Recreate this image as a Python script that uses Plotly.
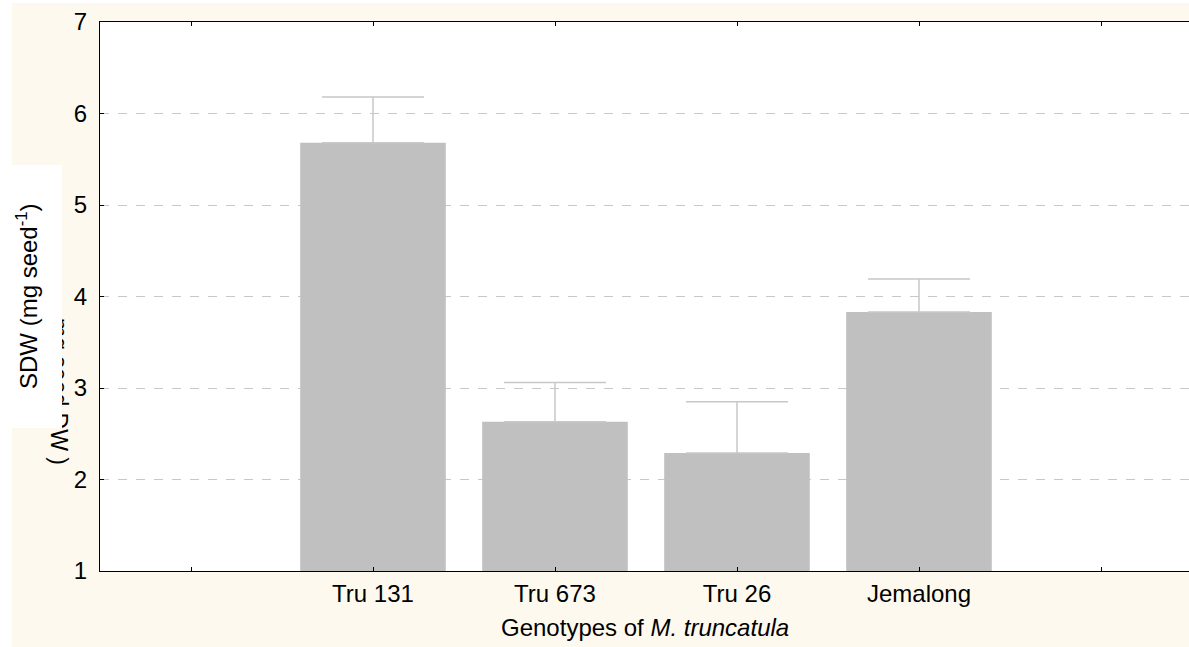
import plotly.graph_objects as go

categories = ["Tru 131", "Tru 673", "Tru 26", "Jemalong"]
sdw_mean = [5.68, 2.63, 2.29, 3.83]
sdw_err = [0.50, 0.43, 0.56, 0.36]
cat_pos = [1, 2, 3, 4]
tick_pos = [0, 1, 2, 3, 4, 5]
tick_text = [""] + categories + [""]
y_ticks = [1, 2, 3, 4, 5, 6, 7]

W, H = 1189, 647
L, R, T, B = 100, 0, 22, 76
PW, PH = W - L - R, H - T - B


def xp(px):
    return (px - L) / PW


def yp(py):
    return (H - B - py) / PH


CREAM = "#FEF9EE"
FONT = "Liberation Sans, Arial, sans-serif"

fig = go.Figure()
fig.add_trace(go.Bar(
    x=cat_pos, y=sdw_mean, width=0.8,
    marker=dict(color="#C0C0C0", line=dict(width=0)),
    error_y=dict(type="data", array=sdw_err, arrayminus=[0] * len(sdw_err),
                 symmetric=False, color="#C8C8C8", thickness=1.5, width=51),
))

fig.update_layout(
    width=W, height=H,
    margin=dict(l=L, r=R, t=T, b=B, pad=0),
    paper_bgcolor=CREAM, plot_bgcolor="white",
    font=dict(family=FONT, size=24, color="black"),
    showlegend=False,
    xaxis=dict(range=[-0.5, -0.5 + PW / 182.0], tickmode="array",
               tickvals=tick_pos, ticktext=tick_text, ticks="inside",
               ticklen=4, tickcolor="black", showgrid=False, zeroline=False,
               showline=True, linecolor="black", linewidth=1, mirror="ticks",
               ticklabelstandoff=1, fixedrange=True),
    yaxis=dict(range=[1, 7], tickvals=y_ticks, ticks="inside", ticklen=4,
               tickcolor="black", showgrid=True, gridcolor="#C8C8C8",
               griddash="dash", gridwidth=1, zeroline=False, showline=True,
               linecolor="black", linewidth=1, mirror=False,
               ticklabelstandoff=7, fixedrange=True),
)

# white page margins at left and top
fig.add_shape(type="rect", xref="paper", yref="paper", x0=xp(0), x1=xp(12),
              y0=yp(H), y1=yp(0), fillcolor="white", line=dict(width=0), layer="below")
fig.add_shape(type="rect", xref="paper", yref="paper", x0=xp(0), x1=xp(W),
              y0=yp(3), y1=yp(0), fillcolor="white", line=dict(width=0), layer="below")

# leftover label fragment underneath the title box
fig.add_annotation(text="mg seed DW )", textangle=90, xref="paper", yref="paper",
                   x=xp(59), y=yp(392), xanchor="center", yanchor="middle",
                   showarrow=False, font=dict(size=23, family=FONT))
# white box behind the y title
fig.add_annotation(text=" ", xref="paper", yref="paper", x=xp(37), y=yp(296.5),
                   xanchor="center", yanchor="middle", showarrow=False,
                   width=50, height=263, bgcolor="white", borderpad=0, borderwidth=0)
# y title
fig.add_annotation(text="SDW (mg seed<sup>-1</sup>)", textangle=-90, xref="paper", yref="paper",
                   x=xp(27), y=yp(296), xanchor="center", yanchor="middle",
                   showarrow=False, font=dict(size=24, family=FONT))
# x title
fig.add_annotation(text="Genotypes of <i>M. truncatula</i>", xref="paper", yref="paper",
                   x=xp(644.5), y=yp(627), xanchor="center", yanchor="middle",
                   showarrow=False, font=dict(size=24, family=FONT))

fig.write_html("out.html", config={"displayModeBar": False},
               post_script="document.body.style.margin='0';")
